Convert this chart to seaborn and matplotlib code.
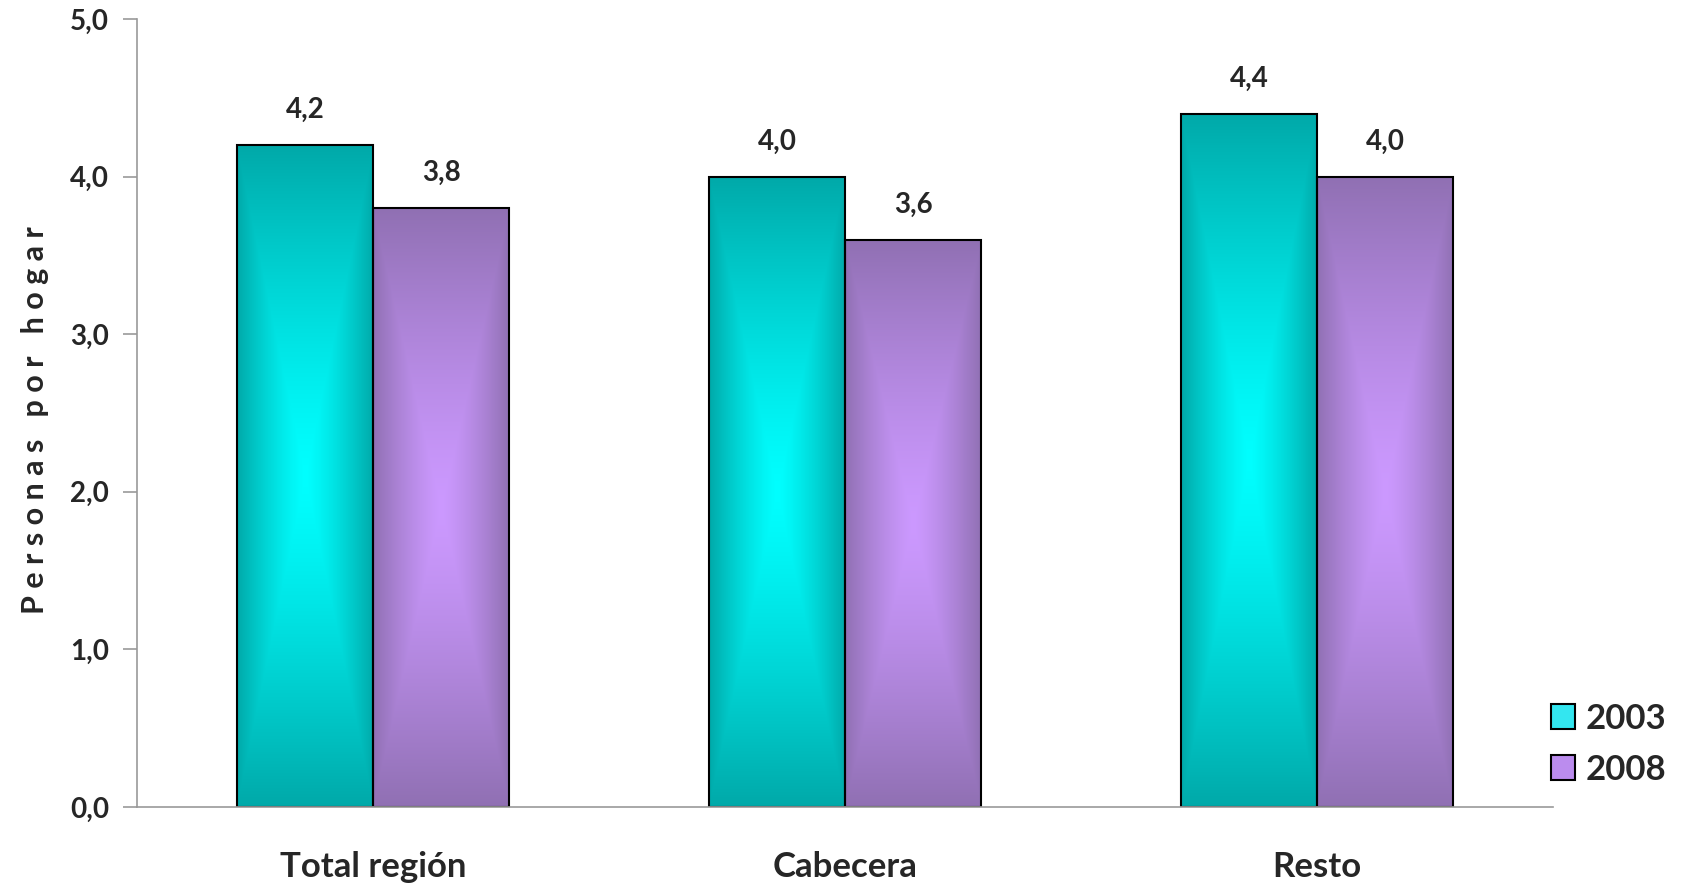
import numpy as np
import pandas as pd
import seaborn as sns
import matplotlib.pyplot as plt
from matplotlib.colors import to_rgb
from matplotlib.patches import Patch

# data
categorias = ["Total región", "Cabecera", "Resto"]
valores_2003 = [4.2, 4.0, 4.4]
valores_2008 = [3.8, 3.6, 4.0]
anios = ["2003", "2008"]

df = pd.DataFrame({
    "zona": categorias * 2,
    "anio": [anios[0]] * 3 + [anios[1]] * 3,
    "personas": valores_2003 + valores_2008,
})

# colores: borde oscuro -> centro claro (degradado rectangular)
colores = {"2003": ("#00A9A9", "#00FFFF"), "2008": ("#9070B3", "#CC99FF")}

sns.set_style("white")
plt.rcParams["font.family"] = ["Lato", "DejaVu Sans"]
peso = "bold"

fig = plt.figure(figsize=(16.83, 8.89), dpi=100)
ax = fig.add_axes([0.0814, 0.0922, 0.8414, 0.8864])

sns.barplot(data=df, x="zona", y="personas", hue="anio", order=categorias,
            hue_order=anios, width=0.577, gap=0, legend=False, ax=ax,
            palette=[colores[a][1] for a in anios], edgecolor="black",
            linewidth=1.5)


def gradiente(borde, centro, n=300):
    u = np.linspace(-1, 1, n)
    uu, vv = np.meshgrid(u, u)
    t = np.maximum(np.abs(uu), np.abs(vv))
    t = t ** 1.3
    b = np.array(to_rgb(borde))
    c = np.array(to_rgb(centro))
    return c[None, None, :] * (1 - t[..., None]) + b[None, None, :] * t[..., None]


for cont, anio in zip(ax.containers, anios):
    img = gradiente(*colores[anio])
    for bar in cont:
        x0, w, h = bar.get_x(), bar.get_width(), bar.get_height()
        im = ax.imshow(img, extent=(x0, x0 + w, 0, h), aspect="auto",
                       zorder=bar.get_zorder() - 0.1, origin="lower")
        im.set_clip_path(bar)
        bar.set_facecolor("none")
    ax.bar_label(cont, labels=[f"{b.get_height():.1f}".replace(".", ",") for b in cont],
                 padding=16, fontsize=20, fontweight=peso)

ax.set_xlim(-0.5, 2.5)
ax.set_ylim(0, 5)
ax.set_yticks(np.arange(0, 5.1, 1))
ax.set_yticklabels([f"{v:.1f}".replace(".", ",") for v in np.arange(0, 5.1, 1)],
                   fontsize=20, fontweight=peso)
ax.set_xticks(range(3))
ax.set_xticklabels(categorias, fontsize=25, fontweight=peso)
ax.set_xticks([-0.5, 0.5, 1.5, 2.5], minor=True)
ax.tick_params(axis="x", which="major", length=0, pad=32)
ax.tick_params(axis="x", which="minor", length=13, color="#999999", width=1.2)
ax.tick_params(axis="y", length=10, color="#999999", width=1.2, pad=10, left=True)

for s in ["top", "right"]:
    ax.spines[s].set_visible(False)
for s in ["left", "bottom"]:
    ax.spines[s].set_color("#999999")
    ax.spines[s].set_linewidth(1.2)

ax.set_xlabel("")
ax.set_ylabel("")
fig.text(0.021, 0.527, " ".join("Personas por hogar"), rotation=90,
         ha="center", va="center", fontsize=22, fontweight=peso)

handles = [Patch(facecolor="#33E6F0" if a == "2003" else "#BB8CEE",
                 edgecolor="black", linewidth=1.5) for a in anios]
fig.legend(handles, anios, loc="center left", bbox_to_anchor=(0.903, 0.163),
           frameon=False, prop={"size": 25, "weight": peso},
           handlelength=0.7, handleheight=0.7, handletextpad=0.3, labelspacing=0.55)

fig.savefig("out.png", dpi=100)
